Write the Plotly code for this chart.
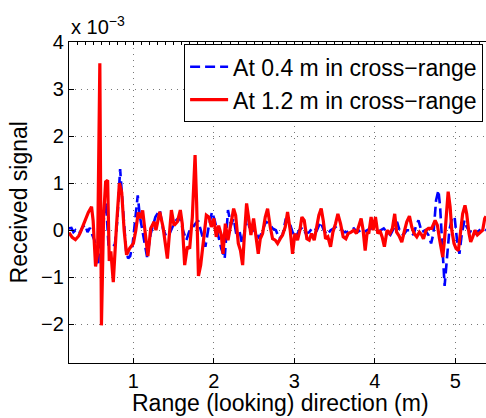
import plotly.graph_objects as go

# Range (m) and received signal (units of 1e-3)
red_x = [0.20, 0.24, 0.28, 0.32, 0.34, 0.37, 0.40, 0.44, 0.48, 0.50, 0.53, 0.555, 0.583, 0.603,
         0.63, 0.655, 0.68, 0.70, 0.72, 0.75, 0.79, 0.826, 0.855, 0.885, 0.915, 0.955, 1.0, 1.03,
         1.06, 1.09, 1.115, 1.145, 1.18, 1.215, 1.257, 1.28, 1.327, 1.368, 1.422, 1.472, 1.505,
         1.546, 1.583, 1.607, 1.637, 1.67, 1.699, 1.732, 1.766, 1.785, 1.808, 1.836, 1.865, 1.906,
         1.939, 1.968, 2.0, 2.029, 2.059, 2.092, 2.113, 2.142, 2.175, 2.21, 2.245, 2.27, 2.303,
         2.33, 2.357, 2.375, 2.406, 2.43, 2.46, 2.493, 2.52, 2.551, 2.576, 2.605, 2.638, 2.667,
         2.7, 2.729, 2.762, 2.791, 2.824, 2.853, 2.886, 2.915, 2.948, 2.977, 3.006, 3.039, 3.068,
         3.093, 3.122, 3.155, 3.184, 3.213, 3.246, 3.275, 3.304, 3.333, 3.358, 3.387, 3.416, 3.449,
         3.478, 3.511, 3.54, 3.573, 3.606, 3.639, 3.668, 3.705, 3.738, 3.771, 3.8, 3.829, 3.854,
         3.879, 3.904, 3.924, 3.953, 3.978, 4.007, 4.036, 4.061, 4.09, 4.118, 4.151, 4.185, 4.217,
         4.246, 4.27, 4.30, 4.334, 4.363, 4.396, 4.429, 4.458, 4.487, 4.52, 4.553, 4.582, 4.603,
         4.636, 4.665, 4.706, 4.748, 4.777, 4.802, 4.822, 4.843, 4.864, 4.892, 4.91, 4.934, 4.955,
         4.983, 5.008, 5.037, 5.066, 5.09, 5.119, 5.14, 5.169, 5.19, 5.215, 5.244, 5.273, 5.306,
         5.339, 5.364, 5.38]
red_y = [-0.05, -0.15, -0.2, -0.12, -0.05, 0.08, 0.22, 0.38, 0.50, 0.2, -0.77, -0.5, 3.55, -2.02,
         0.3, 1.03, 1.06, -0.65, -0.45, -1.1, 0.1, 1.0, 0.8, 0.0, -0.52, -0.38, -0.28, 0.0,
         0.38, 0.26, 0.42, 0.0, -0.55, 0.04, 0.18, 0.0, 0.39, 0.07, -0.6, 0.43, 0.1,
         0.18, 0.43, 0.14, -0.74, -0.35, -0.39, 0.28, 1.6, 0.6, -0.97, -0.74, -0.35, 0.32,
         0.28, 0.07, 0.25, -0.14, 0.1, -0.1, -0.5, 0.14, -0.21, 0.1, 0.46, 0.32, -0.28,
         -0.43, -0.74, -0.21, 0.57, 0.28, -0.1, 0.25, -0.07, -0.5, -0.18, -0.07, 0.28, 0.46,
         0.07, -0.18, -0.21, -0.28, -0.18, -0.1, 0.07, 0.39, 0.0, -0.5, -0.07, -0.21, 0.0,
         0.28, 0.21, -0.18, -0.21, -0.07, -0.21, 0.07, 0.32, 0.46, 0.21, -0.18, -0.14, -0.35,
         -0.04, 0.14, 0.35, 0.14, -0.14, -0.18, -0.07, -0.04, 0.0, -0.07, 0.07, 0.25, 0.0,
         -0.43, -0.04, -0.07, 0.28, 0.0, 0.28, -0.07, 0.0, -0.14, -0.35, 0.0, -0.07, 0.04,
         0.35, -0.04, -0.12, -0.25, -0.04, 0.18, 0.3, 0.07, -0.07, -0.14, -0.04, -0.1, -0.18,
         0.0, 0.04, 0.04, 0.21, 0.1, -0.18, -0.43, -0.57, -0.21, 0.5, 0.82, 0.5, 0.0,
         -0.28, -0.39, -0.43, 0.0, 0.35, 0.53, 0.35, -0.07, -0.25, -0.14, 0.0, -0.1, -0.04,
         0.0, 0.25, 0.3]

blue_x = [0.20, 0.23, 0.255, 0.28, 0.31, 0.34, 0.37, 0.40, 0.43, 0.46, 0.49, 0.516, 0.545, 0.565,
          0.585, 0.605, 0.63, 0.66, 0.69, 0.72, 0.745, 0.77, 0.80, 0.835, 0.86, 0.885, 0.91, 0.935,
          0.96, 0.99, 1.02, 1.054, 1.08, 1.11, 1.14, 1.17, 1.215, 1.273, 1.327, 1.368, 1.41, 1.45,
          1.513, 1.575, 1.616, 1.658, 1.699, 1.74, 1.803, 1.845, 1.894, 1.935, 1.976, 2.01, 2.05,
          2.092, 2.134, 2.175, 2.212, 2.245, 2.274, 2.316, 2.349, 2.386, 2.41, 2.44, 2.48, 2.52,
          2.563, 2.605, 2.646, 2.688, 2.729, 2.77, 2.812, 2.853, 2.894, 2.936, 2.977, 3.018, 3.06,
          3.101, 3.142, 3.184, 3.23, 3.28, 3.325, 3.366, 3.407, 3.45, 3.49, 3.531, 3.573, 3.614,
          3.655, 3.697, 3.738, 3.78, 3.82, 3.862, 3.904, 3.945, 3.986, 4.028, 4.069, 4.11, 4.15,
          4.192, 4.234, 4.275, 4.313, 4.355, 4.396, 4.438, 4.479, 4.512, 4.541, 4.582, 4.624, 4.665,
          4.698, 4.727, 4.76, 4.789, 4.81, 4.83, 4.851, 4.866, 4.89, 4.925, 4.96, 4.99, 5.02, 5.05,
          5.08, 5.112, 5.14, 5.18, 5.215, 5.256, 5.298, 5.34, 5.38]
blue_y = [0.04, 0.05, -0.04, 0.0, -0.07, -0.04, 0.07, 0.12, -0.04, 0.05, -0.1, -0.21, -0.43, -0.7,
          0.3, -0.6, 0.2, 0.6, -0.3, -0.3, -0.35, -0.3, 0.2, 1.3, 0.7, 0.0, -0.45, -0.6,
          -0.55, -0.3, 0.15, 0.74, 0.3, 0.0, -0.3, -0.57, -0.07, 0.28, 0.43, 0.03, -0.14, -0.07,
          0.18, 0.28, 0.0, -0.21, 0.0, 0.07, 0.21, -0.07, -0.35, 0.07, 0.39, 0.21, -0.07,
          -0.39, -0.6, 0.43, 0.11, 0.25, -0.04, 0.0, -0.28, 0.0, 0.28, 0.07, 0.0, -0.04,
          -0.18, 0.0, 0.18, 0.14, 0.04, 0.0, -0.18, -0.1, 0.25, 0.18, -0.04, -0.14, 0.0,
          0.07, -0.07, -0.04, 0.07, 0.0, 0.18, 0.0, -0.1, 0.0, 0.04, 0.1, 0.04, -0.04,
          -0.04, 0.0, 0.04, -0.04, 0.0, -0.04, 0.0, 0.04, 0.04, -0.04, 0.0, 0.04, -0.04,
          -0.1, 0.04, 0.18, -0.04, -0.1, 0.0, 0.0, -0.1, 0.1, 0.21, -0.04, 0.0, -0.1,
          -0.28, -0.07, 0.64, 0.85, 0.5, -0.14, -0.64, -1.18, -0.7, 0.0, 0.28, 0.28, -0.21, -0.5,
          -0.07, 0.21, 0.07, -0.04, 0.04, -0.07, 0.0, 0.04, 0.0]

x_ticks = [1, 2, 3, 4, 5]
y_ticks = [-2, -1, 0, 1, 2, 3, 4]
series_names = ["At 0.4 m in cross\u2212range", "At 1.2 m in cross\u2212range"]

FONT = "Liberation Sans, Arial, Helvetica, sans-serif"

fig = go.Figure()
fig.add_trace(go.Scatter(x=blue_x, y=blue_y, mode="lines", name=series_names[0],
                         line=dict(color="#0000ff", width=2.6, dash="10px,5px")))
fig.add_trace(go.Scatter(x=red_x, y=red_y, mode="lines", name=series_names[1],
                         line=dict(color="#ff0000", width=3.2)))
# invisible trace on top axis to carry minor ticks
fig.add_trace(go.Scatter(x=[0.2], y=[0], xaxis="x2", mode="markers",
                         marker=dict(opacity=0), showlegend=False, hoverinfo="skip"))

fig.update_layout(
    width=486, height=418,
    margin=dict(l=69, r=0, t=42, b=55, autoexpand=False),
    paper_bgcolor="white", plot_bgcolor="white",
    font=dict(family=FONT, size=20, color="black"),
    showlegend=True,
    legend=dict(x=0.276, y=0.993, xanchor="left", yanchor="top",
                bgcolor="white", bordercolor="black", borderwidth=1,
                font=dict(family=FONT, size=23, color="black"),
                tracegroupgap=0, itemwidth=38),
    xaxis=dict(range=[0.2, 5.38], tickvals=x_ticks, ticktext=[str(v) for v in x_ticks],
               ticks="inside", ticklen=5, tickcolor="black",
               showline=True, linecolor="black", linewidth=1.2, mirror=True,
               showgrid=True, gridcolor="#777777", griddash="1px,5px", gridwidth=1,
               zeroline=False, tickfont=dict(size=20)),
    xaxis2=dict(range=[0.2, 5.38], overlaying="x", side="top", dtick=0.1, tick0=0,
                ticks="inside", ticklen=3, tickcolor="black", showticklabels=False,
                showgrid=False, zeroline=False, showline=False),
    yaxis=dict(range=[-2.82, 4.0], tickvals=y_ticks,
               ticktext=[("\u2212" + str(-v)) if v < 0 else str(v) for v in y_ticks],
               ticks="inside", ticklen=5, tickcolor="black",
               showline=True, linecolor="black", linewidth=1.2, mirror=False,
               showgrid=True, gridcolor="#777777", griddash="1px,5px", gridwidth=1,
               zeroline=False, tickfont=dict(size=20)),
    annotations=[
        dict(text="Range (looking) direction (m)", xref="paper", yref="paper",
             x=0.508, y=-0.1246, xanchor="center", yanchor="middle", showarrow=False,
             font=dict(family=FONT, size=23, color="black")),
        dict(text="Received signal", xref="paper", yref="paper",
             x=-0.12, y=0.5, xanchor="center", yanchor="middle", showarrow=False,
             textangle=-90, font=dict(family=FONT, size=23, color="black")),
        dict(text="x 10<sup>\u22123</sup>", xref="paper", yref="paper",
             x=0.0, y=1.0, xanchor="left", yanchor="bottom", yshift=2, showarrow=False,
             font=dict(family=FONT, size=20, color="black")),
    ],
)

fig.write_html("out.html", config={"displayModeBar": False},
               post_script="document.body.style.margin='0';document.body.style.overflow='hidden';")
